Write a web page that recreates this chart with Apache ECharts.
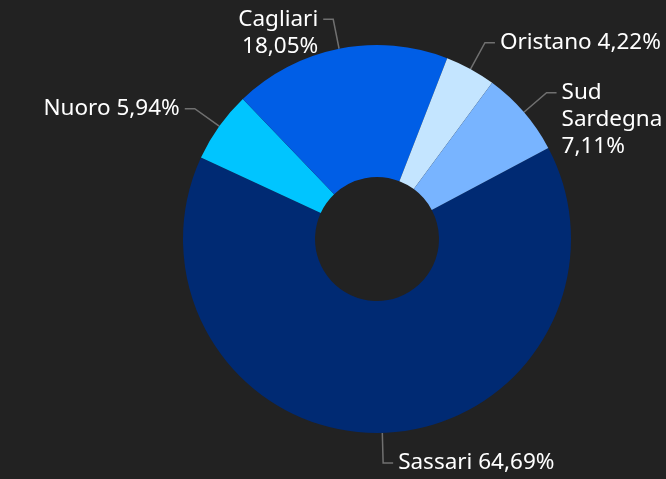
<!DOCTYPE html>
<html>
<head>
<meta charset="utf-8">
<style>
  html, body { margin: 0; padding: 0; background: #222222; }
  #chart { width: 666px; height: 479px; }
</style>
<script src="https://cdn.jsdelivr.net/npm/echarts@6/dist/echarts.min.js"></script>
</head>
<body>
<div id="chart"></div>
<script>
// Data (clockwise order starting from the right-top)
var categories = ['Sassari', 'Nuoro', 'Cagliari', 'Oristano', 'Sud Sardegna'];
var values = [64.69, 5.94, 18.05, 4.22, 7.11];
var colors = ['#002a73', '#00c5ff', '#005ee6', '#c4e5ff', '#78b4ff'];
// Labels that wrap onto several lines, as in the reference
var wrappedLabels = ['Cagliari', 'Sud Sardegna'];

var LINE_H = 27;

function fmt(v) { return v.toFixed(2).replace('.', ',') + '%'; }
function labelText(name, v) {
  if (wrappedLabels.indexOf(name) >= 0) {
    return name.split(' ').join('\n') + '\n' + fmt(v);
  }
  return name + ' ' + fmt(v);
}

var chart = echarts.init(document.getElementById('chart'));

var data = categories.map(function (name, i) {
  return {
    name: name,
    value: values[i],
    itemStyle: { color: colors[i] },
    label: { formatter: labelText(name, values[i]) }
  };
});

chart.setOption({
  backgroundColor: '#222222',
  animation: false,
  series: [{
    type: 'pie',
    center: [377, 239],
    radius: [62, 194],
    startAngle: 28,
    clockwise: true,
    avoidLabelOverlap: false,
    label: {
      show: true,
      position: 'outside',
      color: '#ffffff',
      fontFamily: 'Noto Sans',
      fontSize: 22.5,
      lineHeight: LINE_H,
      distanceToLabelLine: 5
    },
    labelLine: {
      show: true,
      length: 30,
      length2: 10,
      lineStyle: { color: '#707070', width: 1.5 }
    },
    labelLayout: function (params) {
      var i = params.dataIndex;
      var n = labelText(categories[i], values[i]).split('\n').length;
      return { dy: (n - 1) * LINE_H / 2, hideOverlap: false };
    },
    itemStyle: { borderWidth: 0 },
    emphasis: { disabled: true },
    data: data
  }]
});
</script>
</body>
</html>
